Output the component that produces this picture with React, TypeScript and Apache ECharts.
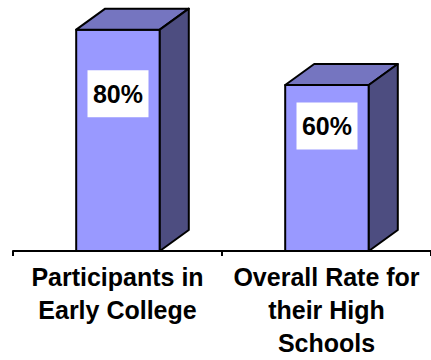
import React, { useEffect, useRef } from "react";
import * as echarts from "echarts";

// Share of students, by group
const categories = ["Participants in\nEarly College", "Overall Rate for\ntheir High\nSchools"];
const rates = [80, 60];

const FONT = '"Liberation Sans", Arial, Helvetica, sans-serif';
const FRONT = "#9999FF";
const TOP = "#7575C0";
const SIDE = "#4D4D80";
const DEPTH_X = 29;
const DEPTH_Y = 21;
// vertical drop of the value badge's centre below each bar's top edge
const BADGE_DROP = [64, 41];

export default function App() {
  const ref = useRef<HTMLDivElement>(null);

  useEffect(() => {
    if (!ref.current) return;
    const chart = echarts.init(ref.current, null, { renderer: "svg" });

    const renderItem = (params: any, api: any) => {
      const idx = api.value(0);
      const v = api.value(1);
      const base = api.coord([idx, 0]);
      const top = api.coord([idx, v]);
      const band = api.size([1, 0])[0];
      const w = band * 0.4;
      const x0 = top[0] - w / 2 + 0.5;
      const x1 = x0 + w;
      const yt = top[1];
      const yb = base[1];
      const edge = { stroke: "#000", lineWidth: 2, lineJoin: "round" };
      const cx = (x0 + x1) / 2;
      const cy = yt + BADGE_DROP[params.dataIndex];
      return {
        type: "group",
        children: [
          {
            type: "rect",
            shape: { x: x0, y: yt, width: w, height: yb - yt },
            style: { fill: FRONT, ...edge },
          },
          {
            type: "polygon",
            shape: {
              points: [
                [x0, yt],
                [x0 + DEPTH_X, yt - DEPTH_Y],
                [x1 + DEPTH_X, yt - DEPTH_Y],
                [x1, yt],
              ],
            },
            style: { fill: TOP, ...edge },
          },
          {
            type: "polygon",
            shape: {
              points: [
                [x1, yt],
                [x1 + DEPTH_X, yt - DEPTH_Y],
                [x1 + DEPTH_X, yb - DEPTH_Y],
                [x1, yb],
              ],
            },
            style: { fill: SIDE, ...edge },
          },
          {
            type: "rect",
            shape: { x: cx - 30.5, y: cy - 23.5, width: 61, height: 47 },
            style: { fill: "#fff" },
          },
          {
            type: "text",
            style: {
              text: v + "%",
              x: cx,
              y: cy,
              align: "center",
              verticalAlign: "middle",
              fontSize: 25,
              fontWeight: "bold",
              fontFamily: FONT,
              fill: "#000",
            },
          },
        ],
      };
    };

    chart.setOption({
      animation: false,
      grid: { left: 13, top: 2, width: 424, height: 249 },
      xAxis: {
        type: "category",
        data: categories,
        axisLine: { lineStyle: { color: "#000", width: 2 } },
        axisTick: { show: true, length: 5, lineStyle: { color: "#000", width: 2 } },
        axisLabel: {
          interval: 0,
          margin: 9,
          color: "#000",
          fontSize: 25,
          fontWeight: "bold",
          fontFamily: FONT,
          lineHeight: 33,
        },
        splitLine: { show: false },
      },
      yAxis: { type: "value", min: 0, max: 90, show: false, splitLine: { show: false } },
      series: [
        {
          type: "custom",
          renderItem,
          encode: { x: 0, y: 1 },
          data: rates.map((v, i) => [i, v]),
          clip: false,
        },
      ],
    });

    return () => chart.dispose();
  }, []);

  return (
    <div
      ref={ref}
      style={{ position: "fixed", left: 0, top: 0, width: 431, height: 360, background: "#fff" }}
    />
  );
}
